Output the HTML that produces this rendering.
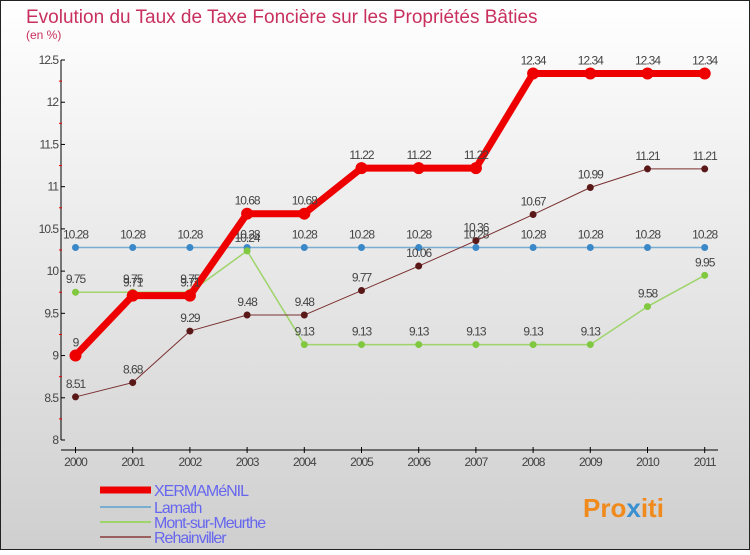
<!DOCTYPE html>
<html><head><meta charset="utf-8"><style>
body{margin:0}
svg text{font-family:"Liberation Sans",sans-serif}
</style></head><body>
<svg width="750" height="550" xmlns="http://www.w3.org/2000/svg">
<defs><linearGradient id="bg" x1="0" y1="0" x2="0" y2="1"><stop offset="0" stop-color="#ffffff"/><stop offset="1" stop-color="#cfcfcf"/></linearGradient></defs>
<rect x="0.5" y="0.5" width="749" height="549" fill="url(#bg)" stroke="#222"/>
<text x="26" y="23" font-size="19" fill="#c8305e">Evolution du Taux de Taxe Foncière sur les Propriétés Bâties</text>
<text x="26" y="39" font-size="12" fill="#c8305e">(en %)</text>
<g id="axes"></g>
<g id="series"></g>
<g id="legend"></g>
<text x="583" y="517" font-size="26" font-weight="bold" fill="#f08a1c">Pro<tspan fill="#3a8fd0">x</tspan>iti</text>
</svg>
<script>
const years=[2000,2001,2002,2003,2004,2005,2006,2007,2008,2009,2010,2011];
const xermamenil=[9,9.71,9.71,10.68,10.68,11.22,11.22,11.22,12.34,12.34,12.34,12.34];
const lamath=[10.28,10.28,10.28,10.28,10.28,10.28,10.28,10.28,10.28,10.28,10.28,10.28];
const mont=[9.75,9.75,9.75,10.24,9.13,9.13,9.13,9.13,9.13,9.13,9.58,9.95];
const rehain=[8.51,8.68,9.29,9.48,9.48,9.77,10.06,10.36,10.67,10.99,11.21,11.21];
const yTicks=[8,8.5,9,9.5,10,10.5,11,11.5,12,12.5];
const names=["XERMAMéNIL","Lamath","Mont-sur-Meurthe","Rehainviller"];
const NS="http://www.w3.org/2000/svg";
const X=i=>75.5+i*57.2;
const Y=v=>440-(v-8)*(380/4.5);
function mk(tag,attrs,parent,text){const e=document.createElementNS(NS,tag);for(const k in attrs)e.setAttribute(k,attrs[k]);if(text!==undefined)e.textContent=text;parent.appendChild(e);return e;}
const ax=document.getElementById('axes');
let e=mk('line',{x1:61,y1:60,x2:61,y2:440,stroke:'#000','stroke-width':1},ax);


e=mk('line',{x1:61,y1:450,x2:718,y2:450,stroke:'#000','stroke-width':1},ax);


yTicks.forEach((t,i)=>{
 mk('line',{x1:61,y1:Y(t),x2:65,y2:Y(t),stroke:'#000'},ax);
 if(i<yTicks.length-1)mk('line',{x1:59,y1:Y(t+0.25),x2:62,y2:Y(t+0.25),stroke:'#e00'},ax);
 const l=mk('text',{x:58,y:Y(t)+4,'font-size':12,fill:'#444','text-anchor':'end','letter-spacing':'-1'},ax,String(t));
 
 
});
years.forEach((y,i)=>{
 mk('line',{x1:X(i),y1:447,x2:X(i),y2:453,stroke:'#000'},ax);
 const l=mk('text',{x:X(i),y:466,'font-size':12,fill:'#444','text-anchor':'middle','letter-spacing':'-1'},ax,String(y));
 
 
});
const sg=document.getElementById('series');
function series(vals,color,dot,w,r,name){
 const g=mk('g',{},sg);
 
 
 mk('polyline',{points:vals.map((v,i)=>X(i)+','+Y(v)).join(' '),fill:'none',stroke:color,'stroke-width':w,'stroke-linejoin':'round'},g);
 vals.forEach((v,i)=>{
  const c=mk('circle',{cx:X(i),cy:Y(v),r:r,fill:dot},g);
  
  
  const t=mk('text',{x:X(i),y:Y(v)-9,'font-size':12,fill:'#444','text-anchor':'middle','letter-spacing':'-1'},g,String(v));
  
  
 });
}
series(lamath,'#7aaed0','#3a88c8',1.5,3.5,'series-lamath');
series(mont,'#9ed46a','#80c840',1.5,3.5,'series-mont-sur-meurthe');
series(rehain,'#7a3030','#5a1818',1,3.5,'series-rehainviller');
series(xermamenil,'#ee0000','#ee0000',7,6,'series-xermamenil');
const lg=document.getElementById('legend');
const lc=['#ee0000','#7aaed0','#9ed46a','#9a6060'],lw=[7,2,2,2],ly=[490,507,522,537];
names.forEach((n,i)=>{
 const g=mk('g',{},lg);
 
 
 mk('line',{x1:100,y1:ly[i],x2:151,y2:ly[i],stroke:lc[i],'stroke-width':lw[i]},g);
 mk('text',{x:154,y:ly[i]+6,'font-size':16,fill:'#6666ee','letter-spacing':'-1'},g,n);
});
</script>
</body></html>
